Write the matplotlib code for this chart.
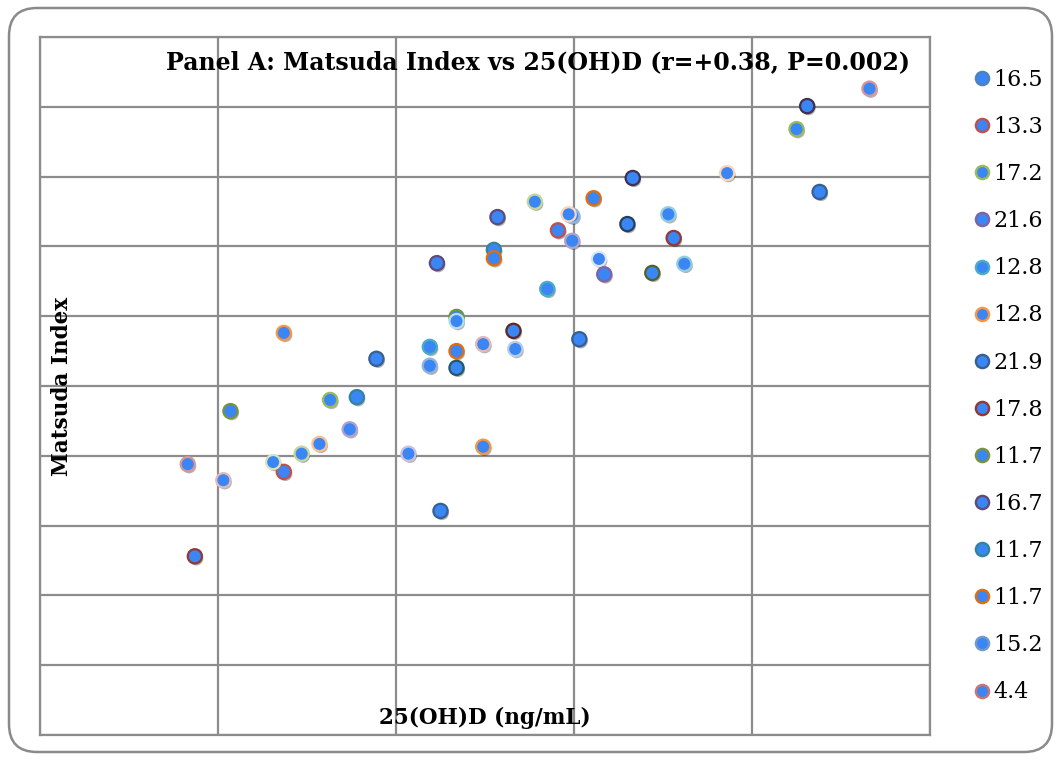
#!/usr/bin/env python3
"""Panel A: Matsuda index vs 25(OH)D scatter, Excel-style."""

import matplotlib.pyplot as plt
import matplotlib.patheffects as pe
from matplotlib.lines import Line2D
from matplotlib.patches import FancyBboxPatch

# 25(OH)D (ng/mL) and Matsuda index
vit_d = [8.3, 8.7, 10.3, 10.7, 13.7, 13.7, 13.1, 14.7, 15.7, 16.3,
         17.4, 17.8, 18.9, 20.7, 21.9, 21.9, 22.3, 22.5, 23.4, 23.4,
         23.4, 23.4, 24.9, 24.9, 25.5, 25.5, 25.7, 26.6, 26.7, 27.8,
         28.5, 29.1, 29.9, 29.7, 29.9, 30.3, 31.1, 31.4, 31.7, 33.0,
         33.3, 34.4, 35.3, 35.6, 36.2, 38.6, 42.5, 43.1, 43.8, 46.6]
matsuda = [3.88, 2.56, 3.65, 4.64, 5.76, 3.77, 3.91, 4.03, 4.17, 4.80,
           4.38, 4.84, 5.39, 4.03, 5.56, 5.29, 6.76, 3.21, 5.99, 5.93,
           5.50, 5.26, 5.60, 4.13, 6.95, 6.83, 7.42, 5.79, 5.53, 7.64,
           6.39, 7.23, 7.44, 7.46, 7.08, 5.67, 7.69, 6.82, 6.60, 7.32,
           7.98, 6.62, 7.46, 7.12, 6.75, 8.05, 8.68, 9.01, 7.78, 9.26]
edge_colors = ["#D99694", "#953735", "#E6B9B8", "#77933C", "#F79646",
               "#C0504D", "#D7E4BD", "#C3D69B", "#FAC090", "#9BBB59",
               "#B3A2C7", "#31859C", "#376092", "#CCC1DA", "#4BACC6",
               "#95B3D7", "#604A7B", "#376092", "#77933C", "#B7DEE8",
               "#E46C0A", "#215968", "#E6B9B8", "#F79646", "#31859C",
               "#E46C0A", "#604A7B", "#632523", "#B9CDE5", "#C3D69B",
               "#4BACC6", "#C0504D", "#8EB4E3", "#FCD5B5", "#B3A2C7",
               "#376092", "#E46C0A", "#DCE6F2", "#8064A2", "#254061",
               "#403152", "#4F6228", "#93CDDD", "#953735", "#93CDDD",
               "#FCD5B5", "#9BBB59", "#403152", "#376092", "#D99694"]

# legend (only the first 14 series are listed)
legend_labels = ["16.5", "13.3", "17.2", "21.6", "12.8", "12.8", "21.9",
                 "17.8", "11.7", "16.7", "11.7", "11.7", "15.2", "4.4"]
legend_edges = ["#4F81BD", "#C0504D", "#9BBB59", "#8064A2", "#4BACC6",
                "#F79646", "#376092", "#953735", "#77933C", "#604A7B",
                "#31859C", "#E46C0A", "#729ACA", "#CD7371"]

FILL = "#3a86f5"
GRID = "#8c8c8c"
SERIF = "DejaVu Serif"

fig = plt.figure(figsize=(10.6, 7.6), dpi=100)
ax = fig.add_axes([40 / 1060, 1 - 735 / 760, 890 / 1060, 698 / 760])

ax.set_xlim(0, 50)
ax.set_ylim(0, 10)
ax.set_xticks(range(0, 51, 10))
ax.set_yticks(range(0, 11))
ax.tick_params(length=0, labelbottom=False, labelleft=False)
ax.grid(True, color=GRID, linewidth=1.6)
ax.set_axisbelow(True)
for sp in ax.spines.values():
    sp.set_color(GRID)
    sp.set_linewidth(1.6)

sc = ax.scatter(vit_d, matsuda, s=105, c=FILL, edgecolors=edge_colors,
                linewidths=1.6, zorder=3, clip_on=False)
sc.set_path_effects([pe.SimplePatchShadow(offset=(1, -1.5), shadow_rgbFace="black",
                                          alpha=0.3),
                     pe.Normal()])

ax.text(0.978, 0.964, "Panel A: Matsuda Index vs 25(OH)D (r=+0.38, P=0.002)",
        transform=ax.transAxes, ha="right", va="center",
        fontsize=17, fontweight="bold", family=SERIF)
ax.text(0.5, 0.024, "25(OH)D (ng/mL)", transform=ax.transAxes,
        ha="center", va="center", fontsize=15.5, fontweight="bold", family=SERIF)
ax.text(0.025, 0.5, "Matsuda Index", transform=ax.transAxes, rotation=90,
        ha="center", va="center", fontsize=15.5, fontweight="bold", family=SERIF)

handles = [Line2D([], [], linestyle="none", marker="o", markersize=9.5,
                  markerfacecolor=FILL, markeredgecolor=ec, markeredgewidth=1.7)
           for ec in legend_edges]
fig.legend(handles, legend_labels, loc="upper left",
           bbox_to_anchor=(966 / 1060, 1 - 60 / 760), frameon=False,
           prop={"family": SERIF, "size": 16}, handlelength=0.6,
           handletextpad=0.25, labelspacing=1.13, borderaxespad=0)

# rounded outer frame
fig.patches.append(FancyBboxPatch((0.09, 0.08), 10.43, 7.44,
                                  boxstyle="round,pad=0,rounding_size=0.28",
                                  transform=fig.dpi_scale_trans, fill=False,
                                  ec="#8a8a8a", lw=1.8))

fig.savefig("out.png", dpi=100)
